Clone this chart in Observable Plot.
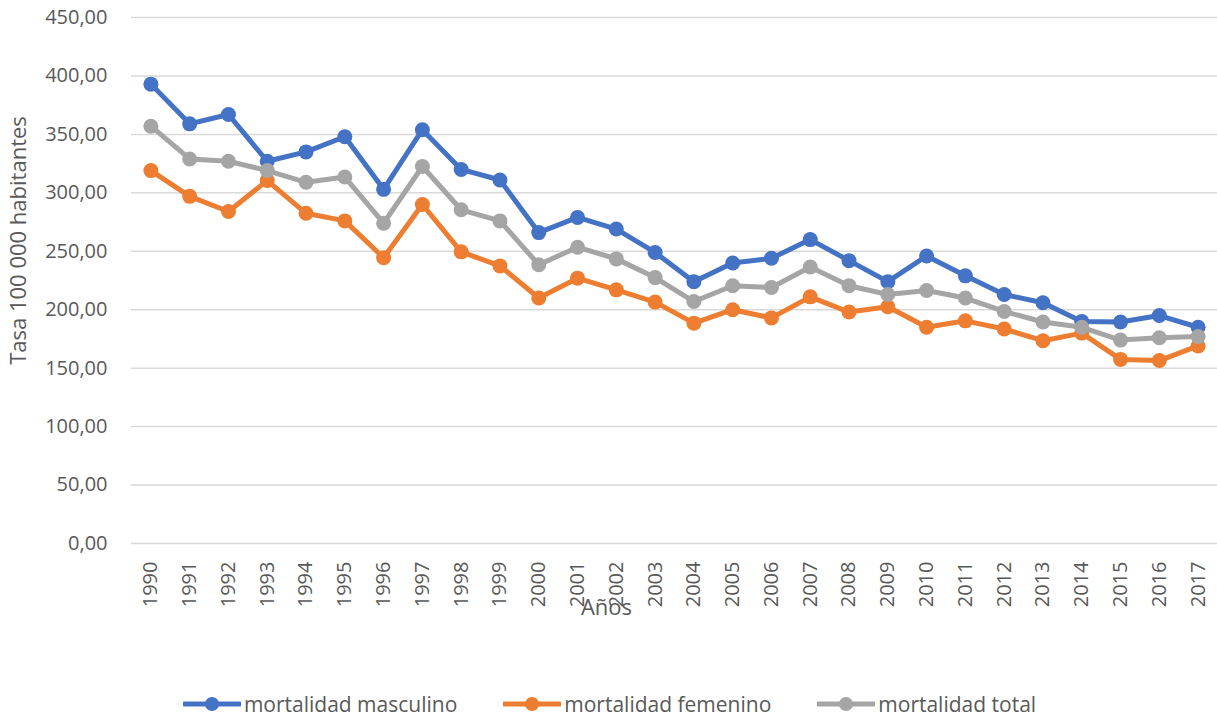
<!DOCTYPE html>
<html>
<head>
<meta charset="utf-8">
<script src="https://cdn.jsdelivr.net/npm/d3@7"></script>
<script src="https://cdn.jsdelivr.net/npm/@observablehq/plot@0.6"></script>
<style>
  html, body { margin: 0; padding: 0; background: #fff; }
  body { width: 1217px; height: 716px; overflow: hidden; font-family: "Open Sans", sans-serif; color: #595959; }
  #legend { display: flex; justify-content: center; align-items: center; height: 38px; gap: 46px; font-size: 21px; padding-left: 2px; }
  .item { display: flex; align-items: center; gap: 3px; }
  .item svg { display: block; }
</style>
</head>
<body>
<div id="chart"></div>
<div id="legend"></div>
<script>
const years = [1990,1991,1992,1993,1994,1995,1996,1997,1998,1999,2000,2001,2002,2003,2004,2005,2006,2007,2008,2009,2010,2011,2012,2013,2014,2015,2016,2017];
const masculino = [393, 359, 367, 327, 335, 348, 303, 354, 320, 311, 266, 279, 269, 249, 224, 240, 244, 260, 242, 224, 246, 229, 213, 206, 190, 189.5, 195, 185];
const femenino = [319, 297, 284, 310.5, 282.5, 276, 244.5, 290, 249.5, 237.5, 210, 227, 217, 206.5, 188.5, 200, 193, 211, 198, 202.5, 185, 190.5, 183.5, 173.5, 180, 157.5, 156.5, 169];
const total = [357, 329, 327, 319, 309, 313.5, 274, 322.5, 285.5, 276, 238.5, 253.5, 243.5, 227.5, 207, 220.5, 219, 236.5, 220.5, 213, 216.5, 210, 198.5, 189.5, 185, 174, 176, 177];
const seriesNames = ["mortalidad masculino", "mortalidad femenino", "mortalidad total"];
const seriesColors = ["#4472C4", "#ED7D31", "#A5A5A5"];
const yTicks = [0, 50, 100, 150, 200, 250, 300, 350, 400, 450];
const yTitle = "Tasa 100 000 habitantes";
const xTitle = "Años";

const seriesValues = [masculino, femenino, total];
const data = seriesNames.map((name, i) => years.map((yr, j) => ({serie: name, year: yr, value: seriesValues[i][j]})));

const fmt = v => v.toFixed(2).replace(".", ",");

const marks = [
  Plot.gridY(yTicks, {stroke: "#d9d9d9", strokeOpacity: 1, strokeWidth: 1.5}),
  Plot.axisY(yTicks, {tickSize: 0, tickPadding: 24, tickFormat: fmt, label: null, fontSize: 20}),
  Plot.axisX(years, {tickSize: 0, tickPadding: 18, tickRotate: -90, tickFormat: d => String(d), label: null, fontSize: 20}),
  Plot.text([yTitle], {frameAnchor: "left", textAnchor: "middle", lineAnchor: "middle", rotate: -90, dx: -113, dy: -40, fontSize: 22, fill: "#595959"}),
  Plot.text([xTitle], {frameAnchor: "bottom", textAnchor: "middle", lineAnchor: "middle", dx: -68, dy: 64, fontSize: 22, fill: "#595959"})
];
data.forEach((rows, i) => {
  marks.push(Plot.line(rows, {x: "year", y: "value", stroke: seriesColors[i], strokeWidth: 5, strokeLinejoin: "round", strokeLinecap: "round"}));
  marks.push(Plot.dot(rows, {x: "year", y: "value", r: 7.5, fill: seriesColors[i], stroke: "none"}));
});

const chart = Plot.plot({
  width: 1217,
  height: 685,
  marginTop: 17,
  marginBottom: 142,
  marginLeft: 131,
  marginRight: 0,
  x: {type: "point", domain: years, padding: 0.5, round: false},
  y: {domain: [0, 450]},
  style: {fontFamily: "Open Sans", fontSize: "20px", color: "#595959", background: "#fff", overflow: "visible"},
  marks
});
document.getElementById("chart").appendChild(chart);

const legend = document.getElementById("legend");
seriesNames.forEach((name, i) => {
  const item = document.createElement("div");
  item.className = "item";
  item.innerHTML = `<svg width="58" height="18"><line x1="1" y1="9" x2="57" y2="9" stroke="${seriesColors[i]}" stroke-width="5" stroke-linecap="round"/><circle cx="29" cy="9" r="7" fill="${seriesColors[i]}"/></svg><span>${name}</span>`;
  legend.appendChild(item);
});
</script>
</body>
</html>
